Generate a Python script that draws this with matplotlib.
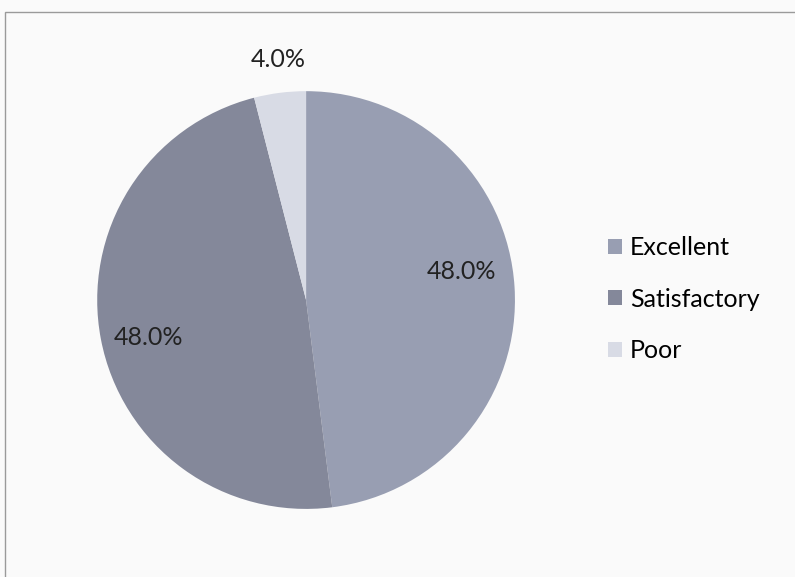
import matplotlib.pyplot as plt

labels = ['Excellent', 'Satisfactory', 'Poor']
shares = [48.0, 48.0, 4.0]
colors = ['#989eb2', '#84889a', '#d8dbe5']

plt.rcParams['font.family'] = ['Lato', 'DejaVu Sans']

fig = plt.figure(figsize=(7.95, 5.77), dpi=100)
fig.patch.set_facecolor('#fafafa')

# pie placed so centre ~ (306, 300) px and radius ~ 209 px
ax = fig.add_axes([0.122, 0.118, 0.526, 0.724])
wedges, texts, autotexts = ax.pie(
    shares, colors=colors, startangle=90, counterclock=False,
    autopct='%.1f%%', pctdistance=0.77, radius=1,
    textprops={'fontsize': 18, 'color': '#222222'})
ax.set_xlim(-1, 1)
ax.set_ylim(-1, 1)

# label spots as in the original chart
autotexts[0].set_position((0.745, 0.135))
autotexts[1].set_position((-0.755, -0.18))
autotexts[2].set_position((-0.135, 1.15))

ax.legend(wedges, labels, loc='center left', bbox_to_anchor=(1.17, 0.502),
          frameon=False, fontsize=18, handlelength=0.55, handleheight=0.55,
          handletextpad=0.3, labelspacing=1.15)

# outer frame of the chart area
frame = plt.Rectangle((0.006, -0.01), 1.1, 0.99, transform=fig.transFigure,
                      fill=False, edgecolor='#9a9a9a', linewidth=1)
fig.patches.append(frame)

fig.savefig('out.png', dpi=100, facecolor=fig.get_facecolor())
